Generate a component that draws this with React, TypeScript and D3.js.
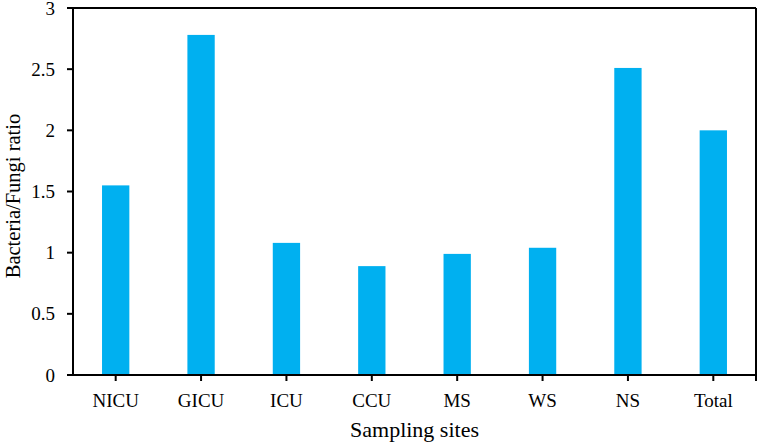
import React from "react";
import * as d3 from "d3";

const categories = ["NICU", "GICU", "ICU", "CCU", "MS", "WS", "NS", "Total"];
const ratios = [1.55, 2.78, 1.08, 0.89, 0.99, 1.04, 2.51, 2.0];
const yTicks = [0, 0.5, 1, 1.5, 2, 2.5, 3];
const yTickLabels = ["0", "0.5", "1", "1.5", "2", "2.5", "3"];

const W = 759;
const H = 443;
const m = { left: 73, right: 3, top: 8, bottom: 68 };

export default function App() {
  const x = d3
    .scaleBand<string>()
    .domain(categories)
    .range([m.left, W - m.right])
    .paddingInner(0)
    .paddingOuter(0);
  const y = d3.scaleLinear().domain([0, 3]).range([H - m.bottom, m.top]);
  const barW = x.bandwidth() * 0.32;
  const font = "'Liberation Serif', 'Times New Roman', serif";
  const x0 = m.left;
  const x1 = W - m.right;
  const y0 = y(0);
  const yTop = y(3);

  return (
    <svg
      width={W}
      height={H}
      style={{ position: "absolute", left: 0, top: 0, background: "#fff" }}
      fontFamily={font}
    >
      {categories.map((c, i) => (
        <rect
          key={c}
          x={(x(c) as number) + x.bandwidth() / 2 - barW / 2}
          y={y(ratios[i])}
          width={barW}
          height={y0 - y(ratios[i])}
          fill="#00B0F0"
        />
      ))}
      <line x1={x0} x2={x1} y1={yTop} y2={yTop} stroke="#000" strokeWidth={2} />
      <line x1={x1} x2={x1} y1={yTop} y2={y0} stroke="#000" strokeWidth={2} />
      <line x1={x0} x2={x1} y1={y0} y2={y0} stroke="#000" strokeWidth={2} />
      <line x1={x0} x2={x0} y1={yTop - 1} y2={y0 + 1} stroke="#000" strokeWidth={2} />
      {yTicks.map((t, i) => (
        <g key={t}>
          <line x1={x0 - 6} x2={x0} y1={y(t)} y2={y(t)} stroke="#000" strokeWidth={2} />
          <text
            x={x0 - 18}
            y={y(t)}
            dy="0.35em"
            textAnchor="end"
            fontSize={19}
            fill="#000"
          >
            {yTickLabels[i]}
          </text>
        </g>
      ))}
      {categories.map((c) => {
        const cx = (x(c) as number) + x.bandwidth() / 2;
        return (
          <g key={c}>
            <line x1={cx} x2={cx} y1={y0} y2={y0 + 6} stroke="#000" strokeWidth={2} />
            <text x={cx} y={407} textAnchor="middle" fontSize={19} fill="#000">
              {c}
            </text>
          </g>
        );
      })}
      <line x1={x1} x2={x1} y1={y0} y2={y0 + 6} stroke="#000" strokeWidth={2} />
      <text
        x={(x0 + x1) / 2}
        y={437}
        textAnchor="middle"
        fontSize={22}
        fill="#000"
      >
        Sampling sites
      </text>
      <text
        transform={`translate(20, 196) rotate(-90)`}
        textAnchor="middle"
        fontSize={20.5}
        fill="#000"
      >
        Bacteria/Fungi ratio
      </text>
    </svg>
  );
}
